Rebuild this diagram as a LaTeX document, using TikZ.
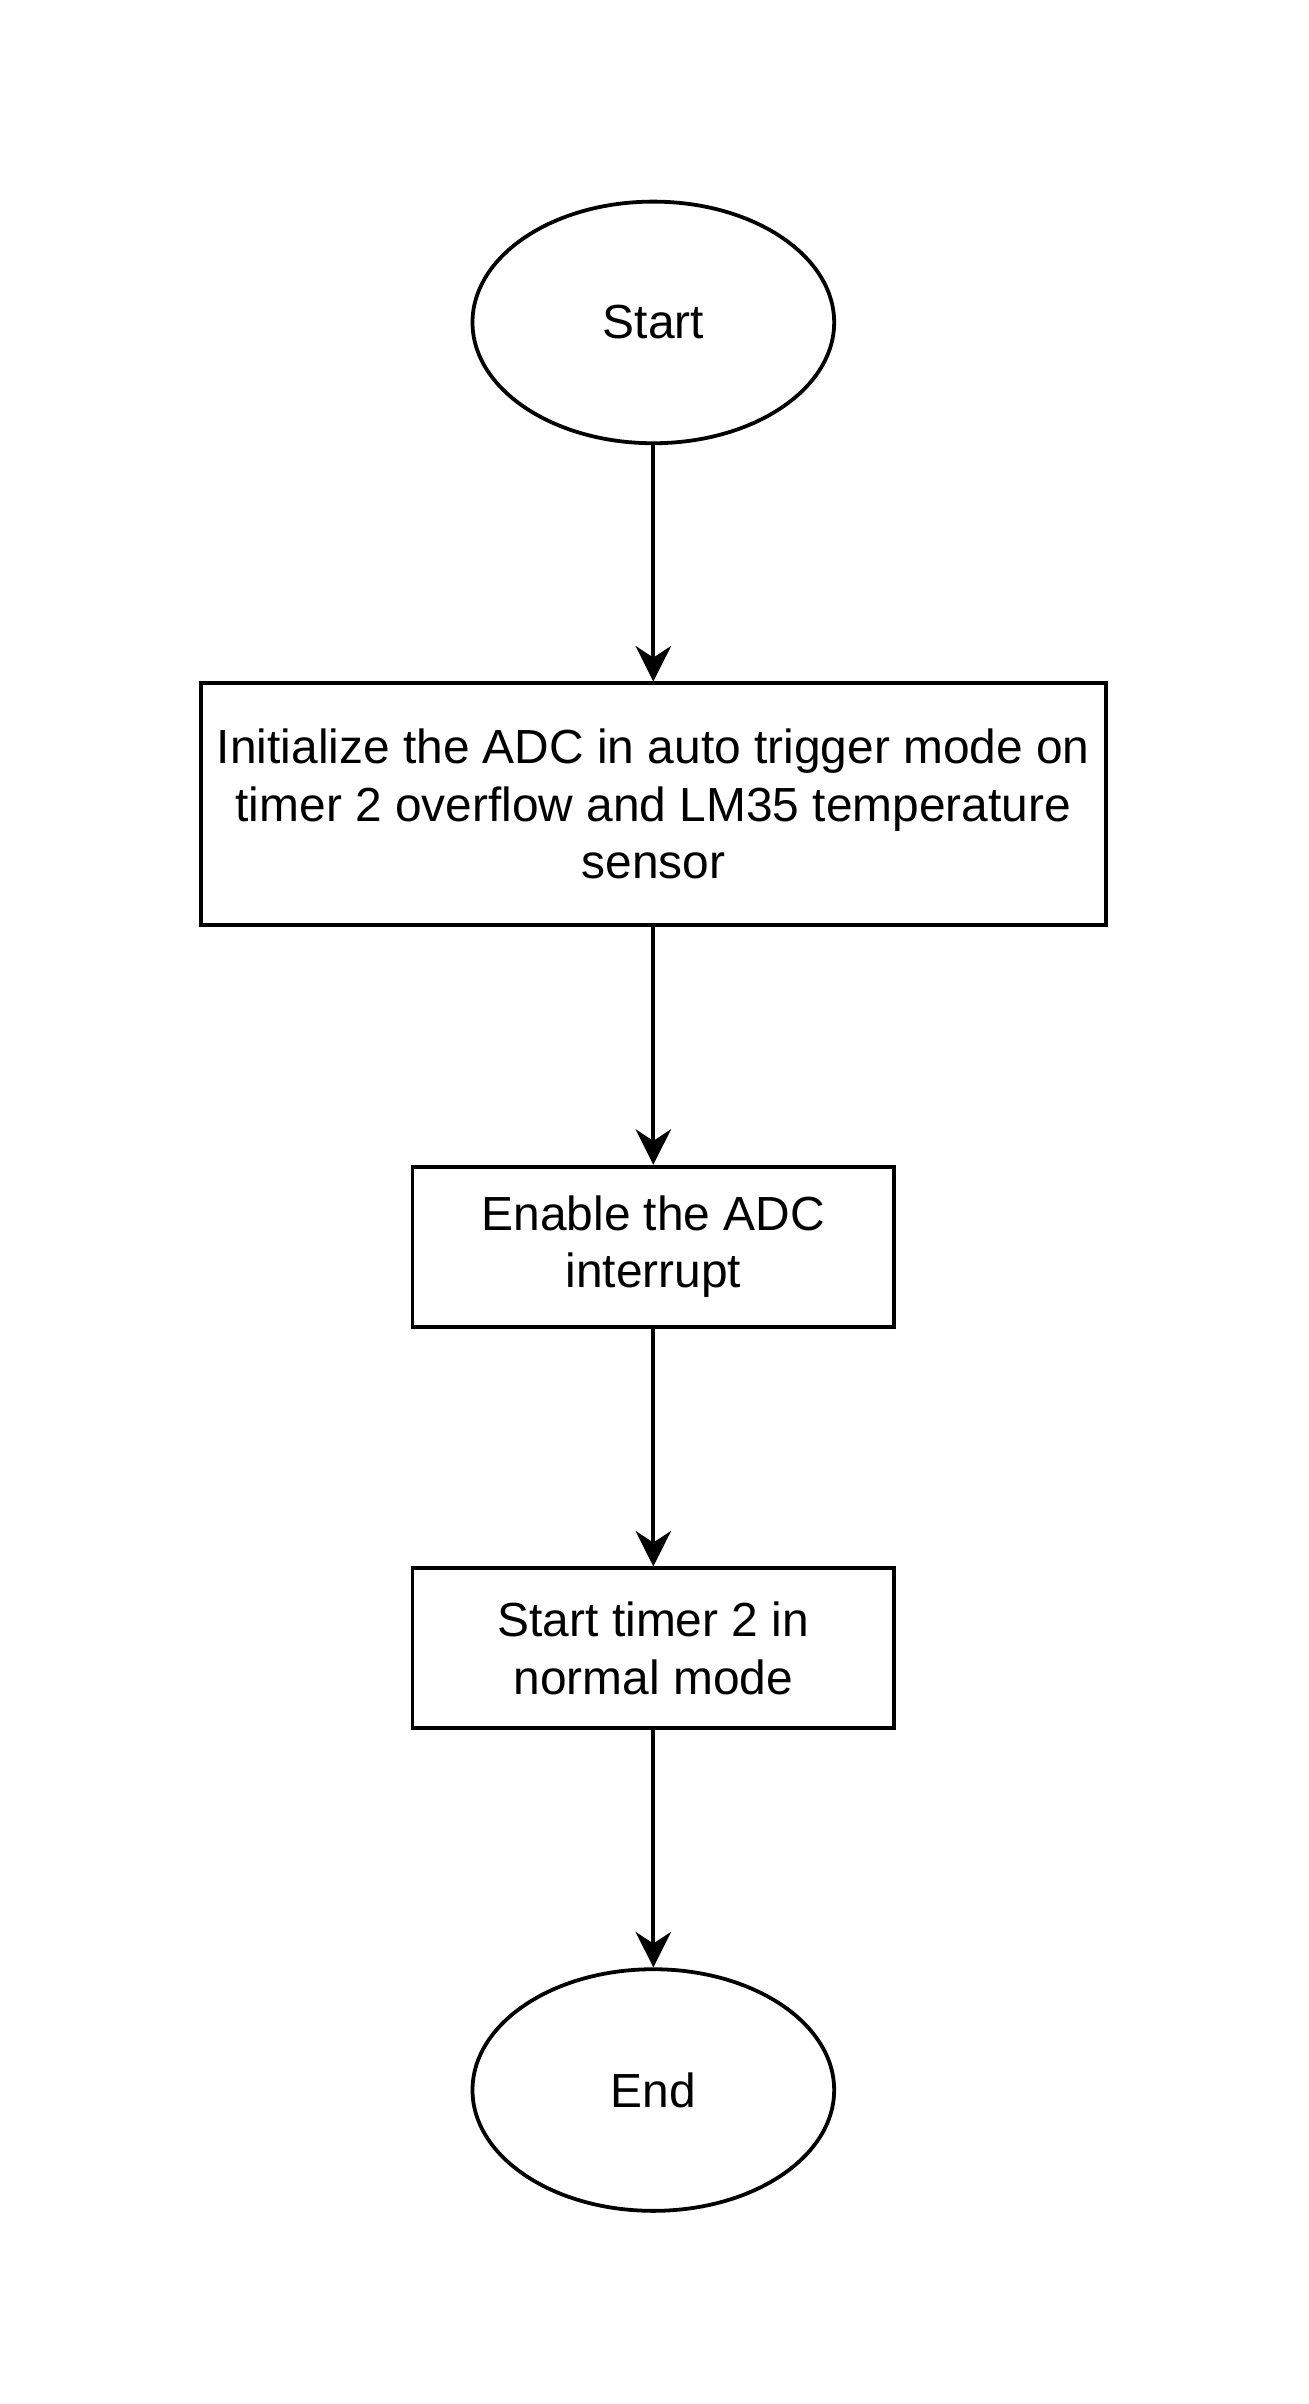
\documentclass[tikz,border=0pt]{standalone}
\usepackage{fontspec}
\setmainfont{Liberation Sans}
\usetikzlibrary{arrows.meta,shapes.geometric}
\begin{document}
\begin{tikzpicture}[> = {Stealth[length=0.46cm,width=0.46cm,inset=0.15cm]},line width=1.4pt,
	every node/.style={draw,line width=1.4pt,inner sep=0pt,align=center,font=\fontsize{17.7}{21.3}\selectfont},
	term/.style={ellipse,minimum width=4.7cm,minimum height=3.14cm},
	proc/.style={rectangle,minimum width=6.26cm,minimum height=2.08cm}]
	\useasboundingbox (0,0) rectangle (17,-31.24);
	\node[term] (start) at (8.49,-4.19)		{Start};
	\node[proc,minimum width=11.76cm,minimum height=3.14cm] (init) at (8.49,-10.45)	{Initialize the ADC in auto trigger mode on\\timer 2 overflow and LM35 temperature\\sensor};
	\node[proc] (enable) at (8.49,-16.2) 	{Enable the ADC\\interrupt};
	\node[proc] (timer) at (8.49,-21.42) 	{Start timer 2 in\\normal mode};
	\node[term] (end) at (8.49,-27.16) 	{End};
	\draw[->] (start)--(init);
	\draw[->] (init)--(enable);
	\draw[->] (enable)--(timer);
	\draw[->] (timer)--(end);
\end{tikzpicture}
\end{document}
